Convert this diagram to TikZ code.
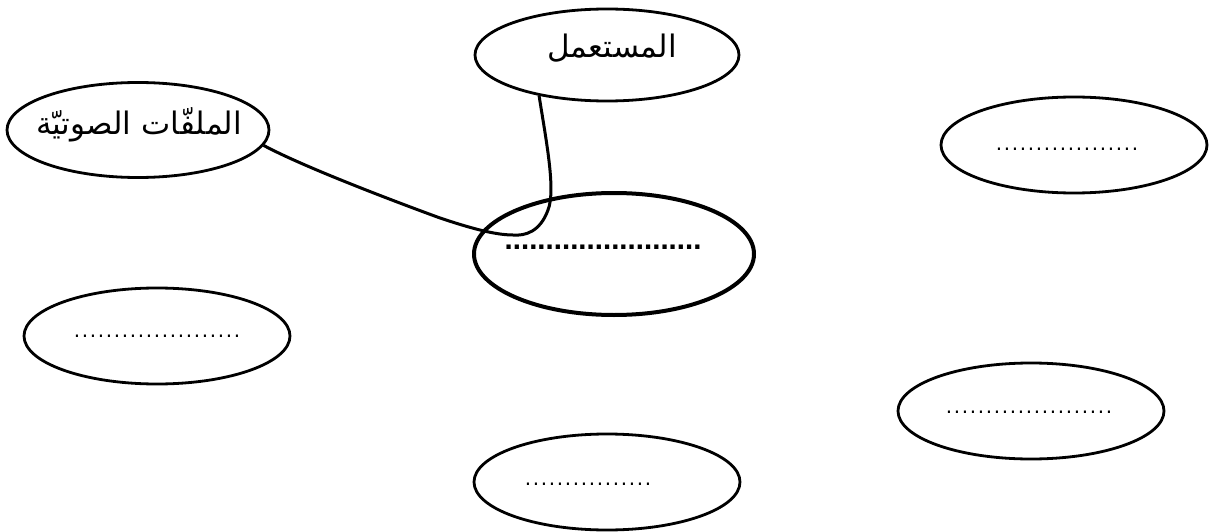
\documentclass[tikz,border=0pt]{standalone}
\usepackage{fontspec}
\setmainfont{DejaVu Sans}
\newfontfamily\arabicfont[Script=Arabic]{DejaVu Sans}
\TeXXeTstate=1
\usetikzlibrary{shapes.geometric}
\newcommand\dotrow[2]{\count255=0 \loop\ifnum\count255<#1 \hbox to #2{\hss.\hss}\advance\count255 by 1 \repeat}
\tikzset{
  bubble/.style={draw=black, line width=2.8pt, ellipse, inner sep=0pt, minimum width=266pt, minimum height=96pt},
  mainbubble/.style={bubble, line width=4pt, minimum width=280pt, minimum height=122pt},
  lbl/.style={inner sep=0pt, font=\fontsize{31}{36}\selectfont\arabicfont},
  dotlbl/.style={inner sep=0pt, font=\fontsize{20}{24}\selectfont},
  bolddot/.style={inner sep=0pt, font=\fontsize{24}{28}\selectfont\bfseries},
  link/.style={draw=black, line width=3pt}
}
\begin{document}
\begin{tikzpicture}[x=1pt,y=-1pt]
\useasboundingbox (0,0) rectangle (1213,532);
\node[bubble, minimum width=264pt, minimum height=92pt] (user) at (607,55) {};
\node[bubble, minimum width=262pt, minimum height=95pt] (audio) at (138,130) {};
\node[bubble] (rtop) at (1074,145) {};
\node[mainbubble] (center) at (614,254) {};
\node[bubble] (llow) at (157,336) {};
\node[bubble] (rlow) at (1031,411) {};
\node[bubble] (bottom) at (607,482) {};

\node[lbl] (userT) at (612,48) {\beginR المستعمل\endR};
\node[lbl] (audioT) at (139,125) {\beginR الملفّات الصوتيّة\endR};
\node[dotlbl, anchor=base] (rtopT) at (1067,151) {\dotrow{18}{8pt}};
\node[bolddot, anchor=base] (centerT) at (603,249) {\dotrow{24}{8.2pt}};
\node[dotlbl, anchor=base] (llowT) at (157,337) {\dotrow{21}{8pt}};
\node[dotlbl, anchor=base] (rlowT) at (1029,413) {\dotrow{21}{8pt}};
\node[dotlbl, anchor=base] (bottomT) at (588,485) {\dotrow{16}{8pt}};

\coordinate (loop) at (513,235);
\draw[link] (user.211) .. controls (546,140) and (556,190) .. (548,210)
  .. controls (540,232) and (525,236) .. (loop)
  .. controls (495,235) and (470,228) .. (440,218)
  .. controls (380,196) and (300,165) .. (audio.-7);
\end{tikzpicture}
\end{document}
